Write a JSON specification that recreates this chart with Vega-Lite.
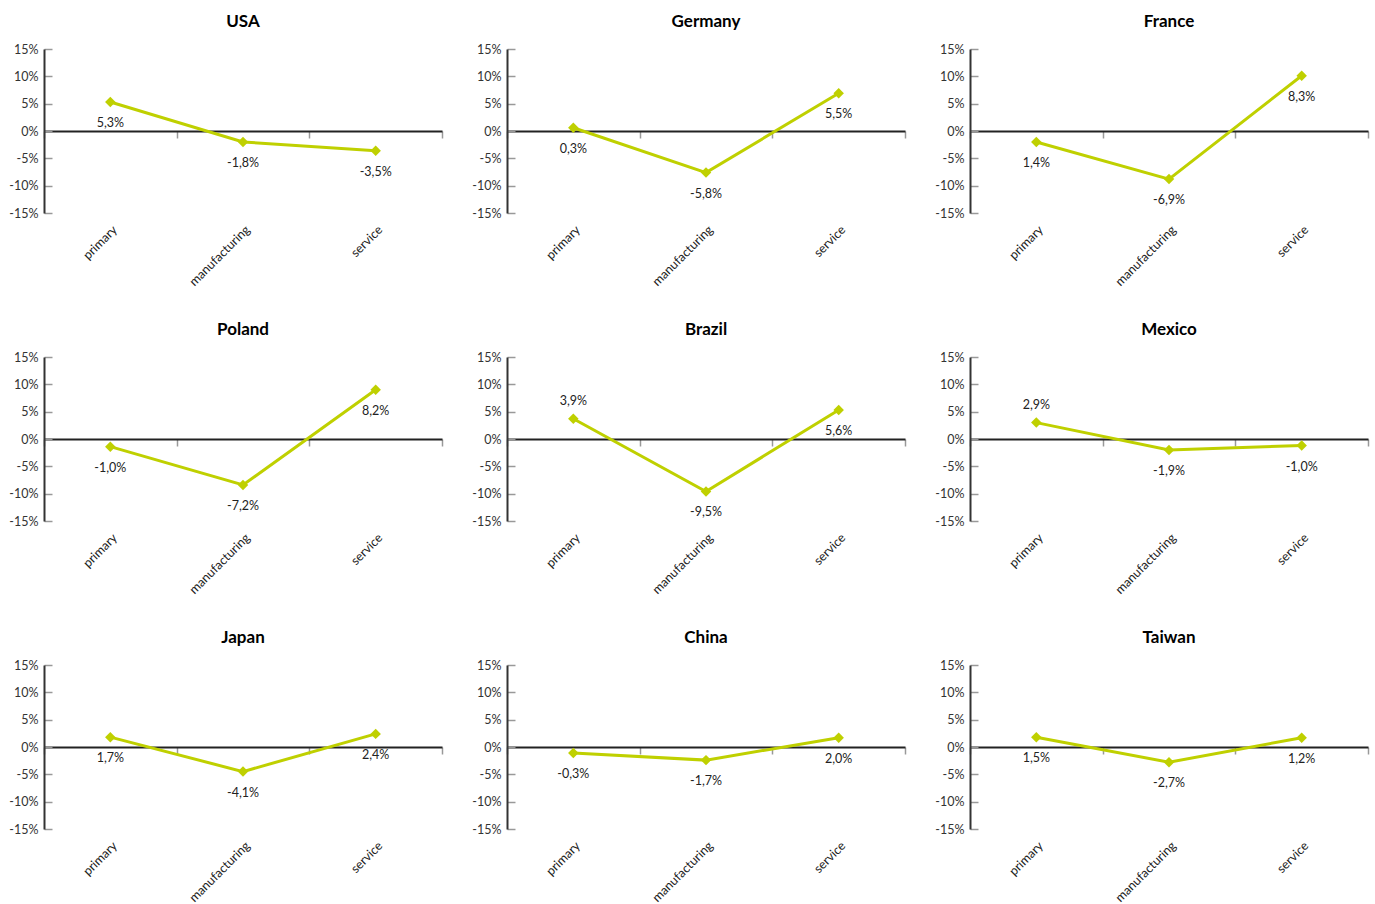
{
  "$schema": "https://vega.github.io/schema/vega-lite/v6.json",
  "padding": {"left": 8, "top": 13, "right": 5, "bottom": 0},
  "background": "white",
  "config": {"font": "Lato", "view": {"stroke": null}},
  "data": {"values": [
    {"country": "USA", "sector": "primary", "value": 5.3, "label": "5,3%"},
    {"country": "USA", "sector": "manufacturing", "value": -2.0, "label": "-1,8%"},
    {"country": "USA", "sector": "service", "value": -3.6, "label": "-3,5%"},
    {"country": "Germany", "sector": "primary", "value": 0.6, "label": "0,3%"},
    {"country": "Germany", "sector": "manufacturing", "value": -7.6, "label": "-5,8%"},
    {"country": "Germany", "sector": "service", "value": 6.9, "label": "5,5%"},
    {"country": "France", "sector": "primary", "value": -2.0, "label": "1,4%"},
    {"country": "France", "sector": "manufacturing", "value": -8.8, "label": "-6,9%"},
    {"country": "France", "sector": "service", "value": 10.1, "label": "8,3%"},
    {"country": "Poland", "sector": "primary", "value": -1.4, "label": "-1,0%"},
    {"country": "Poland", "sector": "manufacturing", "value": -8.4, "label": "-7,2%"},
    {"country": "Poland", "sector": "service", "value": 9.0, "label": "8,2%"},
    {"country": "Brazil", "sector": "primary", "value": 3.7, "label": "3,9%"},
    {"country": "Brazil", "sector": "manufacturing", "value": -9.6, "label": "-9,5%"},
    {"country": "Brazil", "sector": "service", "value": 5.3, "label": "5,6%"},
    {"country": "Mexico", "sector": "primary", "value": 3.0, "label": "2,9%"},
    {"country": "Mexico", "sector": "manufacturing", "value": -2.0, "label": "-1,9%"},
    {"country": "Mexico", "sector": "service", "value": -1.2, "label": "-1,0%"},
    {"country": "Japan", "sector": "primary", "value": 1.8, "label": "1,7%"},
    {"country": "Japan", "sector": "manufacturing", "value": -4.5, "label": "-4,1%"},
    {"country": "Japan", "sector": "service", "value": 2.4, "label": "2,4%"},
    {"country": "China", "sector": "primary", "value": -1.1, "label": "-0,3%"},
    {"country": "China", "sector": "manufacturing", "value": -2.4, "label": "-1,7%"},
    {"country": "China", "sector": "service", "value": 1.7, "label": "2,0%"},
    {"country": "Taiwan", "sector": "primary", "value": 1.8, "label": "1,5%"},
    {"country": "Taiwan", "sector": "manufacturing", "value": -2.8, "label": "-2,7%"},
    {"country": "Taiwan", "sector": "service", "value": 1.7, "label": "1,2%"}
  ]},
  "facet": {
    "field": "country", "type": "nominal",
    "sort": ["USA", "Germany", "France", "Poland", "Brazil", "Mexico", "Japan", "China", "Taiwan"],
    "header": {"title": null, "labelFont": "Lato", "labelFontSize": 17, "labelFontWeight": "bold", "labelColor": "#000", "labelPadding": 12}
  },
  "columns": 3,
  "spacing": {"row": 32, "column": 28},
  "resolve": {"axis": {"x": "independent", "y": "independent"}},
  "spec": {
    "width": 398,
    "height": 164,
    "encoding": {
      "x": {
        "field": "sector", "type": "nominal",
        "sort": ["primary", "manufacturing", "service"],
        "scale": {"paddingInner": 0, "paddingOuter": 0},
        "axis": {
          "title": null, "offset": -82, "domainColor": "#222", "domainWidth": 2,
          "tickColor": "#999", "tickSize": 7, "tickWidth": 1.5, "tickBand": "extent",
          "labelAngle": -45, "labelPadding": 85, "labelFontSize": 12.5, "labelColor": "#222", "labelFont": "Lato"
        }
      },
      "y": {
        "field": "value", "type": "quantitative",
        "scale": {"domain": [-15, 15], "nice": false},
        "axis": {
          "title": null, "values": [-15, -10, -5, 0, 5, 10, 15], "labelExpr": "datum.value + '%'",
          "grid": false, "domainColor": "#333", "domainWidth": 2,
          "tickColor": "#999", "tickSize": -8, "tickWidth": 1.5, "labelPadding": 14,
          "labelFontSize": 12.5, "labelColor": "#333", "labelFont": "Lato"
        }
      }
    },
    "layer": [
      {"mark": {"type": "line", "color": "#bfd000", "strokeWidth": 3}},
      {"mark": {"type": "point", "shape": "diamond", "filled": true, "opacity": 1, "color": "#bfd000", "size": 110}},
      {
        "transform": [{"filter": "!(datum.sector == 'primary' && (datum.country == 'Brazil' || datum.country == 'Mexico'))"}],
        "mark": {"type": "text", "dy": 21, "fontSize": 12.5, "color": "#222", "font": "Lato"},
        "encoding": {"text": {"field": "label"}}
      },
      {
        "transform": [{"filter": "datum.sector == 'primary' && (datum.country == 'Brazil' || datum.country == 'Mexico')"}],
        "mark": {"type": "text", "dy": -18, "fontSize": 12.5, "color": "#222", "font": "Lato"},
        "encoding": {"text": {"field": "label"}}
      }
    ]
  }
}
